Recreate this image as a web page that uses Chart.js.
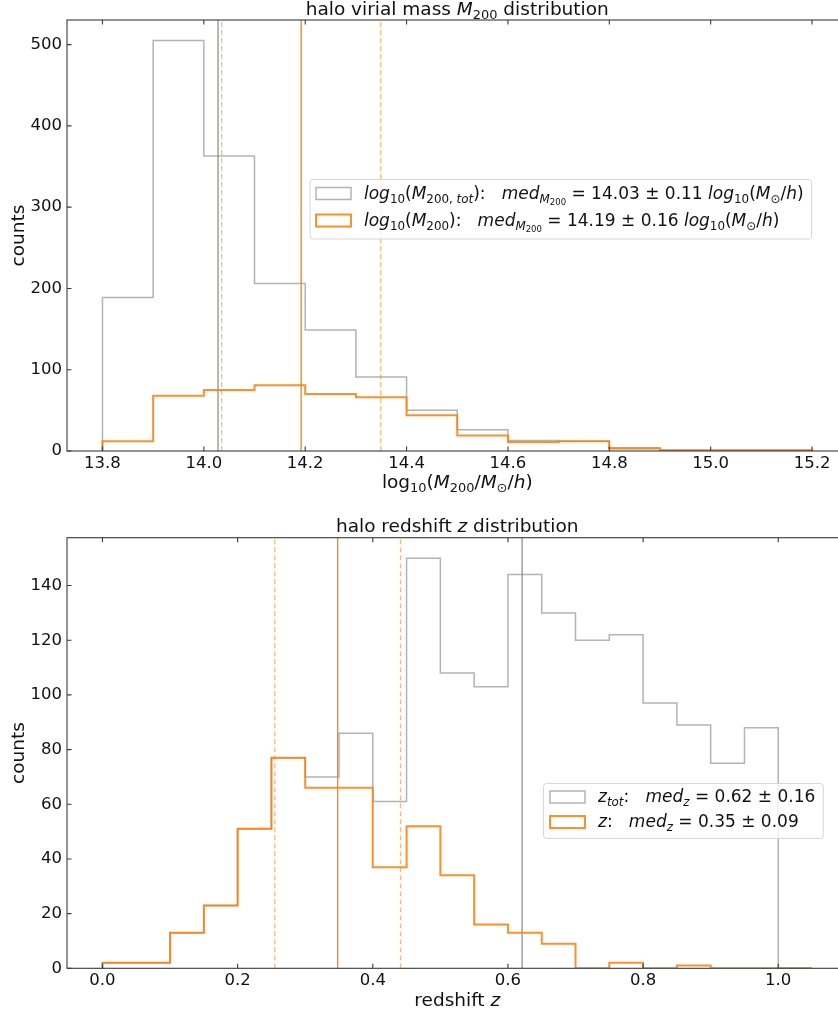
<!DOCTYPE html>
<html>
<head>
<meta charset="utf-8">
<script src="https://cdn.jsdelivr.net/npm/chart.js@4.4.1/dist/chart.umd.min.js"></script>
<style>
  html, body { margin: 0; padding: 0; overflow: hidden; background: #fff; width: 838px; height: 1017px; }
  canvas { position: absolute; left: 0; }
  #massChart { top: 0; }
  #zChart { top: 500px; }
</style>
</head>
<body>
<canvas id="massChart" width="850" height="500"></canvas>
<canvas id="zChart" width="850" height="517"></canvas>
<script>
// ---- data: halo virial mass, bins of 0.1 dex ----
const massEdges = [13.8, 13.9, 14.0, 14.1, 14.2, 14.3, 14.4, 14.5, 14.6, 14.7, 14.8, 14.9, 15.0, 15.1, 15.2];
const massTot = [189, 505, 363, 206, 149, 91, 50, 26, 13, 12, 4, 1, 1, 1];
const massSel = [12, 68, 75, 81, 70, 66, 44, 19, 11, 12, 3, 1, 1, 1];
const massTicksX = [13.8, 14.0, 14.2, 14.4, 14.6, 14.8, 15.0, 15.2];
const massTicksY = [0, 100, 200, 300, 400, 500];
const massMedTot = 14.028, massErrTot = 0.11;
const massMedSel = 14.192, massErrSel = 0.157;

// ---- data: halo redshift, bins of 0.05 ----
const zEdges = [0.0, 0.05, 0.1, 0.15, 0.2, 0.25, 0.3, 0.35, 0.4, 0.45, 0.5, 0.55, 0.6, 0.65, 0.7, 0.75, 0.8, 0.85, 0.9, 0.95, 1.0, 1.05];
const zTot = [2, 2, 13, 23, 51, 77, 70, 86, 61, 150, 108, 103, 144, 130, 120, 122, 97, 89, 75, 88, 0];
const zSel = [2, 2, 13, 23, 51, 77, 66, 66, 37, 52, 34, 16, 13, 9, 0, 2, 0, 1, 0, 0, 0];
const zTicksX = [0.0, 0.2, 0.4, 0.6, 0.8, 1.0];
const zTicksY = [0, 20, 40, 60, 80, 100, 120, 140];
const zMedTot = 0.621, zErrTot = 0.16;
const zMedSel = 0.348, zErrSel = 0.093;

// ---- text (rich segments: [text, flags]; i = italic, 1/2 = subscript level) ----
const massTitle = [['halo virial mass ', ''], ['M', 'i'], ['200', '1'], [' distribution', '']];
const massXLabel = [['log', ''], ['10', '1'], ['(', ''], ['M', 'i'], ['200', '1'], ['/', ''], ['M', 'i'], ['\u2299', '1'], ['/', ''], ['h', 'i'], [')', '']];
const massLegendTot = [['log', 'i'], ['10', '1'], ['(', ''], ['M', 'i'], ['200, ', '1'], ['tot', '1i'], ['):   ', ''], ['med', 'i'], ['M', '1i'], ['200', '2'],
  [' = ' + massMedTot.toFixed(2) + ' \u00b1 ' + massErrTot.toFixed(2) + ' ', ''], ['log', 'i'], ['10', '1'], ['(', ''], ['M', 'i'], ['\u2299', '1'], ['/', ''], ['h', 'i'], [')', '']];
const massLegendSel = [['log', 'i'], ['10', '1'], ['(', ''], ['M', 'i'], ['200', '1'], ['):   ', ''], ['med', 'i'], ['M', '1i'], ['200', '2'],
  [' = ' + massMedSel.toFixed(2) + ' \u00b1 ' + massErrSel.toFixed(2) + ' ', ''], ['log', 'i'], ['10', '1'], ['(', ''], ['M', 'i'], ['\u2299', '1'], ['/', ''], ['h', 'i'], [')', '']];
const zTitle = [['halo redshift ', ''], ['z', 'i'], [' distribution', '']];
const zXLabel = [['redshift ', ''], ['z', 'i']];
const zLegendTot = [['z', 'i'], ['tot', '1i'], [':   ', ''], ['med', 'i'], ['z', '1i'], [' = ' + zMedTot.toFixed(2) + ' \u00b1 ' + zErrTot.toFixed(2), '']];
const zLegendSel = [['z', 'i'], [':   ', ''], ['med', 'i'], ['z', '1i'], [' = ' + zMedSel.toFixed(2) + ' \u00b1 ' + zErrSel.toFixed(2), '']];

const FONT = '"DejaVu Sans"';
const TICK_SIZE = 16.5;
const LABEL_SIZE = 18.5;
const LEGEND_SIZE = 17;
const GREY_HIST = 'rgba(128,128,128,0.6)';
const GREY_LINE = 'rgba(128,128,128,0.75)';
const ORANGE_HIST = 'rgba(255,127,14,0.88)';
const ORANGE_LINE = 'rgba(255,127,14,0.95)';
const ORANGE_DASH = 'rgba(255,127,14,0.55)';

function stepPoints(edges, counts) {
  const pts = [{ x: edges[0], y: 0 }];
  counts.forEach((c, i) => {
    pts.push({ x: edges[i], y: c }, { x: edges[i + 1], y: c });
  });
  pts.push({ x: edges[edges.length - 1], y: 0 });
  return pts;
}

function vline(x, yMax) {
  return [{ x: x, y: 0 }, { x: x, y: yMax }];
}

function segFont(f, base) {
  const lvl = f.indexOf('2') >= 0 ? 2 : (f.indexOf('1') >= 0 ? 1 : 0);
  const size = [base, base * 0.7, base * 0.5][lvl];
  const shift = [0, base * 0.22, base * 0.36][lvl];
  return { font: (f.indexOf('i') >= 0 ? 'italic ' : '') + size + 'px ' + FONT, shift: shift };
}

function richWidth(ctx, segs, base) {
  let w = 0;
  segs.forEach(([t, f]) => { ctx.font = segFont(f, base).font; w += ctx.measureText(t).width; });
  return w;
}

function drawRich(ctx, segs, x, y, base, align) {
  let cx = align === 'center' ? x - richWidth(ctx, segs, base) / 2 : x;
  ctx.textAlign = 'left';
  ctx.textBaseline = 'alphabetic';
  ctx.fillStyle = '#111';
  segs.forEach(([t, f]) => {
    const sf = segFont(f, base);
    ctx.font = sf.font;
    ctx.fillText(t, cx, y + sf.shift);
    cx += ctx.measureText(t).width;
  });
}

function roundRect(ctx, x, y, w, h, r) {
  ctx.beginPath();
  ctx.moveTo(x + r, y);
  ctx.arcTo(x + w, y, x + w, y + h, r);
  ctx.arcTo(x + w, y + h, x, y + h, r);
  ctx.arcTo(x, y + h, x, y, r);
  ctx.arcTo(x, y, x + w, y, r);
  ctx.closePath();
}

// frame, inward ticks, titles, rich legend
const decorPlugin = {
  id: 'decor',
  afterDraw(chart, args, opts) {
    const ctx = chart.ctx;
    const a = chart.chartArea;
    const xs = chart.scales.x, ys = chart.scales.y;
    ctx.save();
    ctx.strokeStyle = '#3a3a3a';
    ctx.lineWidth = 1.1;
    ctx.strokeRect(a.left, a.top, a.right - a.left, a.bottom - a.top);
    ctx.beginPath();
    xs.ticks.forEach(t => {
      const px = xs.getPixelForValue(t.value);
      ctx.moveTo(px, a.bottom); ctx.lineTo(px, a.bottom - 4.5);
      ctx.moveTo(px, a.top); ctx.lineTo(px, a.top + 4.5);
    });
    ys.ticks.forEach(t => {
      const py = ys.getPixelForValue(t.value);
      ctx.moveTo(a.left, py); ctx.lineTo(a.left + 4.5, py);
      ctx.moveTo(a.right, py); ctx.lineTo(a.right - 4.5, py);
    });
    ctx.stroke();

    const cx = (a.left + a.right) / 2;
    drawRich(ctx, opts.title, cx, opts.titleY, LABEL_SIZE, 'center');
    drawRich(ctx, opts.xlabel, cx, opts.xlabelY, LABEL_SIZE, 'center');

    ctx.save();
    ctx.translate(24, (a.top + a.bottom) / 2);
    ctx.rotate(-Math.PI / 2);
    ctx.font = LABEL_SIZE + 'px ' + FONT;
    ctx.fillStyle = '#111';
    ctx.textAlign = 'center';
    ctx.textBaseline = 'alphabetic';
    ctx.fillText('counts', 0, 0);
    ctx.restore();

    // legend
    const lg = opts.legend;
    const textW = Math.max(...lg.rows.map(r => richWidth(ctx, r.text, LEGEND_SIZE)));
    const boxW = (lg.textX - lg.x) + textW + 8;
    roundRect(ctx, lg.x, lg.y, boxW, lg.h, 3);
    ctx.fillStyle = 'rgba(255,255,255,0.8)';
    ctx.fill();
    ctx.strokeStyle = 'rgba(204,204,204,0.8)';
    ctx.lineWidth = 1;
    ctx.stroke();
    lg.rows.forEach(r => {
      ctx.fillStyle = '#fff';
      ctx.fillRect(lg.patchX, r.patchY, 35, 12);
      ctx.strokeStyle = r.color;
      ctx.lineWidth = r.lw;
      ctx.strokeRect(lg.patchX, r.patchY, 35, 12);
      drawRich(ctx, r.text, lg.textX, r.baseline, LEGEND_SIZE, 'left');
    });
    ctx.restore();
  }
};

function makeChart(id, cfg) {
  const yMax = cfg.yTop;
  return new Chart(document.getElementById(id), {
    type: 'scatter',
    data: {
      datasets: [
        { data: vline(cfg.medSel - cfg.errSel, yMax), borderColor: ORANGE_DASH, borderWidth: 1.3, borderDash: [5, 3] },
        { data: vline(cfg.medSel + cfg.errSel, yMax), borderColor: ORANGE_DASH, borderWidth: 1.3, borderDash: [5, 3] },
        { data: vline(cfg.medSel, yMax), borderColor: ORANGE_LINE, borderWidth: 1.4 },
        { data: stepPoints(cfg.edges, cfg.sel), borderColor: ORANGE_HIST, borderWidth: 2 },
        { data: vline(cfg.medTot, yMax), borderColor: GREY_LINE, borderWidth: 1.5 },
        { data: stepPoints(cfg.edges, cfg.tot), borderColor: GREY_HIST, borderWidth: 1.5 }
      ]
    },
    options: {
      responsive: false,
      animation: false,
      devicePixelRatio: 1,
      showLine: true,
      elements: { point: { radius: 0, hoverRadius: 0 }, line: { tension: 0, fill: false } },
      layout: { padding: { top: cfg.areaTop, right: 2.5, left: 0, bottom: 0 } },
      plugins: {
        legend: { display: false },
        tooltip: { enabled: false },
        decor: cfg.decor
      },
      scales: {
        x: {
          type: 'linear',
          min: cfg.xMin, max: cfg.xMax,
          grid: { display: false, drawTicks: false },
          border: { display: false },
          afterBuildTicks: s => { s.ticks = cfg.ticksX.map(v => ({ value: v })); },
          afterFit: s => { s.height = cfg.xAxisH; },
          ticks: {
            padding: 3, maxRotation: 0, autoSkip: false,
            color: '#111', font: { family: 'DejaVu Sans', size: TICK_SIZE },
            callback: v => v.toFixed(1)
          }
        },
        y: {
          type: 'linear',
          min: 0, max: yMax,
          grid: { display: false, drawTicks: false },
          border: { display: false },
          afterBuildTicks: s => { s.ticks = cfg.ticksY.map(v => ({ value: v })); },
          afterFit: s => { s.width = 67; },
          ticks: {
            padding: 5, autoSkip: false,
            color: '#111', font: { family: 'DejaVu Sans', size: TICK_SIZE },
            callback: v => String(v)
          }
        }
      }
    },
    plugins: [decorPlugin]
  });
}

makeChart('massChart', {
  edges: massEdges, tot: massTot, sel: massSel,
  medTot: massMedTot, medSel: massMedSel, errSel: massErrSel,
  xMin: 13.73, xMax: 15.27, yTop: 530.25,
  ticksX: massTicksX, ticksY: massTicksY,
  areaTop: 20, xAxisH: 49,
  decor: {
    title: massTitle, titleY: 15,
    xlabel: massXLabel, xlabelY: 488,
    legend: {
      x: 310, y: 179.5, h: 59.5, patchX: 316, textX: 364,
      rows: [
        { text: massLegendTot, color: GREY_HIST, lw: 1.5, patchY: 187.5, baseline: 199 },
        { text: massLegendSel, color: ORANGE_HIST, lw: 2, patchY: 214.5, baseline: 226 }
      ]
    }
  }
});

makeChart('zChart', {
  edges: zEdges, tot: zTot, sel: zSel,
  medTot: zMedTot, medSel: zMedSel, errSel: zErrSel,
  xMin: -0.0525, xMax: 1.1025, yTop: 157.5,
  ticksX: zTicksX, ticksY: zTicksY,
  areaTop: 37.7, xAxisH: 48.7,
  decor: {
    title: zTitle, titleY: 32,
    xlabel: zXLabel, xlabelY: 505.5,
    legend: {
      x: 543.5, y: 283.5, h: 55, patchX: 550, textX: 598,
      rows: [
        { text: zLegendTot, color: GREY_HIST, lw: 1.5, patchY: 291, baseline: 302 },
        { text: zLegendSel, color: ORANGE_HIST, lw: 2, patchY: 316, baseline: 327 }
      ]
    }
  }
});
</script>
</body>
</html>
